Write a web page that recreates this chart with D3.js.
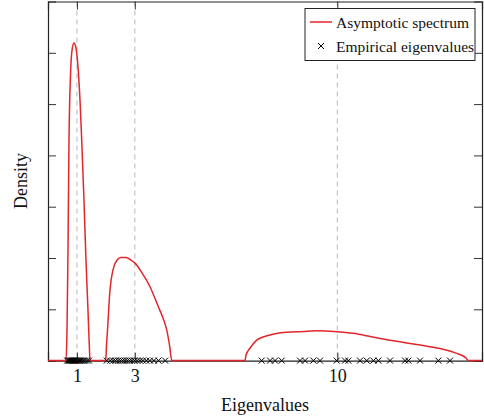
<!DOCTYPE html>
<html>
<head>
<meta charset="utf-8">
<script src="https://cdn.jsdelivr.net/npm/d3@7"></script>
<style>
  body { margin: 0; background: #fff; }
  text { font-family: "Liberation Serif", "Times New Roman", serif; }
</style>
</head>
<body>
<div id="vis_canvas"></div>
<script>

// asymptotic spectrum (eigenvalue, density)
var densX = [0, 0.622, 0.657, 0.691, 0.726, 0.778, 0.830, 0.899, 0.968, 1.037, 1.106, 1.165, 1.244, 1.313, 1.382, 1.434, 1.452,
             1.995, 2.022, 2.057, 2.143, 2.247, 2.385, 2.523, 2.696, 2.869, 3.007, 3.249, 3.526, 3.813, 3.975, 4.103, 4.200, 4.279,
             6.810, 6.844, 6.982, 7.214, 7.432, 7.674, 8.123, 8.597, 9.288, 9.979, 10.785, 11.476, 12.341, 13.204, 13.723, 14.127, 14.345, 14.449, 14.528, 15];
var densY = [0, 0, 0.060, 0.216, 0.430, 0.557, 0.605, 0.619, 0.609, 0.572, 0.508, 0.430, 0.312, 0.195, 0.098, 0.020, 0,
             0, 0.030, 0.060, 0.138, 0.177, 0.196, 0.201, 0.201, 0.196, 0.190, 0.171, 0.144, 0.105, 0.083, 0.060, 0.030, 0,
             0, 0.011, 0.024, 0.040, 0.046, 0.050, 0.055, 0.056, 0.058, 0.056, 0.051, 0.043, 0.035, 0.027, 0.021, 0.014, 0.009, 0.005, 0, 0];

// empirical eigenvalues
var eigenvalues = [0.66, 0.70, 0.74, 0.77, 0.80, 0.83, 0.85, 0.88, 0.91, 0.94, 0.97, 1.00, 1.04, 1.08, 1.12, 1.17, 1.22, 1.28, 1.35, 1.42,
                   2.03, 2.15, 2.25, 2.33, 2.42, 2.50, 2.58, 2.66, 2.74, 2.82, 2.90, 2.99, 3.08, 3.18, 3.28, 3.40, 3.52, 3.66, 3.82, 4.05,
                   7.386, 7.674, 7.847, 8.078, 8.711, 8.884, 9.172, 9.402, 9.979, 10.266, 10.380, 10.785, 11.016, 11.245, 11.418, 11.822, 12.341, 12.455, 12.859, 13.491, 13.896];

var xTicks = [1, 3, 10];
var yTicks = [0.1, 0.2, 0.3, 0.4, 0.5, 0.6];
var legendLabels = ["Asymptotic spectrum", "Empirical eigenvalues"];

var margin = { top: 1.5, right: 2, bottom: 59.4, left: 48 }
var W = 484, H = 420
var w = W - margin.left - margin.right
var h = H - margin.top - margin.bottom

var x = d3.scaleLinear().domain([0, 15]).range([0, w]);
var y = d3.scaleLinear().domain([0, 0.7]).range([h, 0]);

var svg = d3.select('#vis_canvas').append('svg')
    .attr('width', W)
    .attr('height', H);

var g = svg.append('g')
    .attr('transform', 'translate(' + margin.left + ',' + margin.top + ')');

// dashed grid at the x ticks
g.selectAll('.grid')
    .data(xTicks)
    .enter().append('line')
    .attr('x1', function (d) { return x(d); })
    .attr('x2', function (d) { return x(d); })
    .attr('y1', 0)
    .attr('y2', h)
    .attr('stroke', '#c4c4c4')
    .attr('stroke-width', 1.2)
    .attr('stroke-dasharray', '5,4');

// axes with inward ticks, no y labels
var axB = g.append('g').attr('transform', 'translate(0,' + h + ')')
    .call(d3.axisBottom(x).tickValues(xTicks).tickSize(-8).tickPadding(9).tickFormat(d3.format('d')));
var axT = g.append('g')
    .call(d3.axisTop(x).tickValues(xTicks).tickSize(-8).tickFormat(''));
var axL = g.append('g')
    .call(d3.axisLeft(y).tickValues(yTicks).tickSize(-8).tickFormat(''));
var axR = g.append('g').attr('transform', 'translate(' + w + ',0)')
    .call(d3.axisRight(y).tickValues(yTicks).tickSize(-8).tickFormat(''));

[axB, axT, axL, axR].forEach(function (a) {
    a.select('.domain').attr('stroke', '#222').attr('stroke-width', 1.2);
    a.selectAll('.tick line').attr('stroke', '#333').attr('stroke-width', 1);
});
axB.selectAll('.tick text')
    .attr('font-size', 18)
    .attr('font-family', '"Liberation Serif", serif')
    .attr('fill', '#111');

// density curve
var dens = densX.map(function (d, i) { return [d, densY[i]]; });
var line = d3.line()
    .x(function (d) { return x(d[0]); })
    .y(function (d) { return y(d[1]); })
    .curve(d3.curveMonotoneX);

g.append('path')
    .datum(dens)
    .attr('d', line)
    .attr('fill', 'none')
    .attr('stroke', '#e3262b')
    .attr('stroke-width', 1.5);

// eigenvalue crosses
var cross = 'M-3,-3L3,3M-3,3L3,-3';
g.selectAll('.eig')
    .data(eigenvalues)
    .enter().append('path')
    .attr('class', 'eig')
    .attr('d', cross)
    .attr('transform', function (d) { return 'translate(' + x(d) + ',' + y(0) + ')'; })
    .attr('stroke', '#000')
    .attr('stroke-width', 1)
    .attr('fill', 'none');

// axis titles
svg.append('text')
    .attr('x', margin.left + w / 2)
    .attr('y', 411)
    .attr('text-anchor', 'middle')
    .attr('font-size', 18)
    .attr('fill', '#111')
    .text('Eigenvalues');

svg.append('text')
    .attr('transform', 'translate(27,' + (margin.top + h / 2) + ') rotate(-90)')
    .attr('text-anchor', 'middle')
    .attr('font-size', 18)
    .attr('fill', '#111')
    .text('Density');

// legend
var lg = svg.append('g');
lg.append('rect')
    .attr('x', 305)
    .attr('y', 8.5)
    .attr('width', 170)
    .attr('height', 52)
    .attr('fill', '#fff')
    .attr('stroke', '#222')
    .attr('stroke-width', 1);

lg.append('line')
    .attr('x1', 310).attr('x2', 332)
    .attr('y1', 22).attr('y2', 22)
    .attr('stroke', '#e3262b')
    .attr('stroke-width', 1.5);

lg.append('path')
    .attr('d', cross)
    .attr('transform', 'translate(321,46)')
    .attr('stroke', '#000')
    .attr('stroke-width', 1)
    .attr('fill', 'none');

lg.selectAll('.lt')
    .data(legendLabels)
    .enter().append('text')
    .attr('x', 336)
    .attr('y', function (d, i) { return 27.5 + i * 24; })
    .attr('font-size', 15.5)
    .attr('fill', '#111')
    .text(function (d) { return d; });

</script>
</body>
</html>
